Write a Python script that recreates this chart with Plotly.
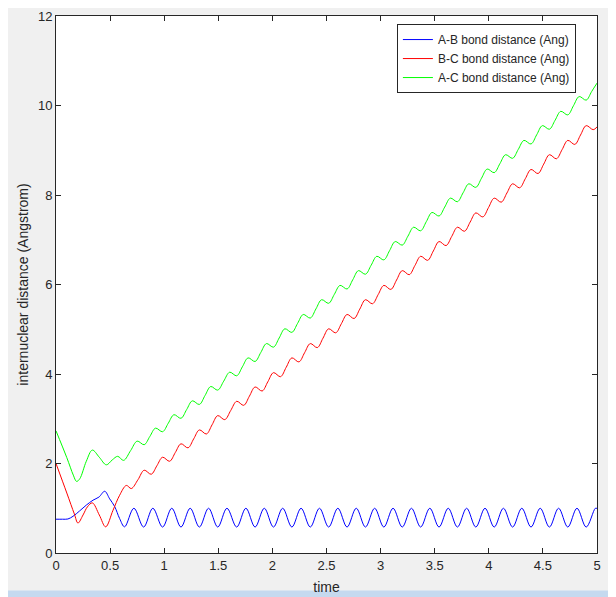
import plotly.graph_objects as go

# Bond distances (time vs Angstrom)

# A-B bond (blue)
t_ab = [0, 0.06, 0.11, 0.157, 0.218, 0.28, 0.342, 0.397, 0.45, 0.496, 0.542, 0.588, 0.634,
        0.72, 0.81, 0.895, 0.985, 1.07, 1.155, 1.24, 1.325, 1.41, 1.495,
        1.58, 1.67, 1.755, 1.84, 1.925, 2.01, 2.095, 2.18, 2.265, 2.35,
        2.435, 2.52, 2.605, 2.69, 2.775, 2.86, 2.945, 3.03, 3.115, 3.20,
        3.285, 3.37, 3.455, 3.54, 3.625, 3.71, 3.795, 3.88, 3.965, 4.05,
        4.135, 4.22, 4.305, 4.39, 4.475, 4.56, 4.645, 4.73, 4.815, 4.90,
        4.985, 5.0]
d_ab = [0.755, 0.755, 0.76, 0.82, 0.94, 1.07, 1.18, 1.25, 1.38, 1.21, 1.04, 0.77, 0.585,
        1.0, 0.58, 1.0, 0.58, 1.0, 0.58, 1.0, 0.58, 1.0, 0.58,
        1.0, 0.58, 1.0, 0.58, 1.0, 0.58, 1.0, 0.58, 1.0, 0.58,
        1.0, 0.58, 1.0, 0.58, 1.0, 0.58, 1.0, 0.58, 1.0, 0.58,
        1.0, 0.58, 1.0, 0.58, 1.0, 0.58, 1.0, 0.58, 1.0, 0.58,
        1.0, 0.58, 1.0, 0.58, 1.0, 0.58, 1.0, 0.58, 1.0, 0.58,
        1.0, 0.995]

# B-C bond (red)
t_bc = [0, 0.10, 0.17, 0.203, 0.25, 0.29, 0.336, 0.40, 0.459, 0.527, 0.588, 0.65, 0.696, 0.758,
        0.815, 0.88, 0.9325, 0.985, 1.05, 1.1025, 1.155, 1.22, 1.2725,
        1.325, 1.39, 1.4425, 1.495, 1.56, 1.615, 1.67, 1.735, 1.7875,
        1.84, 1.905, 1.9575, 2.01, 2.075, 2.1275, 2.18, 2.245, 2.2975,
        2.35, 2.415, 2.4675, 2.52, 2.585, 2.6375, 2.69, 2.755, 2.8075,
        2.86, 2.925, 2.9775, 3.03, 3.095, 3.1475, 3.20, 3.265, 3.3175,
        3.37, 3.435, 3.4875, 3.54, 3.605, 3.6575, 3.71, 3.775, 3.8275,
        3.88, 3.945, 3.9975, 4.05, 4.115, 4.1675, 4.22, 4.285, 4.3375,
        4.39, 4.455, 4.5075, 4.56, 4.625, 4.6775, 4.73, 4.795, 4.8475,
        4.90, 4.965, 5.0]
d_bc = [2.0, 1.34, 0.87, 0.67, 0.85, 1.03, 1.12, 0.85, 0.585, 0.955, 1.29, 1.51, 1.44, 1.64,
        1.85, 1.76, 1.95, 2.14, 2.05, 2.245, 2.44, 2.35, 2.55,
        2.75, 2.66, 2.865, 3.07, 2.98, 3.185, 3.39, 3.30, 3.505,
        3.71, 3.62, 3.825, 4.03, 3.94, 4.15, 4.36, 4.27, 4.475,
        4.68, 4.59, 4.80, 5.01, 4.92, 5.125, 5.33, 5.24, 5.45,
        5.66, 5.57, 5.775, 5.98, 5.89, 6.10, 6.31, 6.22, 6.425,
        6.63, 6.54, 6.75, 6.96, 6.87, 7.075, 7.28, 7.19, 7.395,
        7.60, 7.51, 7.72, 7.93, 7.84, 8.045, 8.25, 8.16, 8.365,
        8.57, 8.48, 8.69, 8.90, 8.81, 9.015, 9.22, 9.13, 9.34,
        9.55, 9.46, 9.52]

# A-C bond (green)
t_ac = [0, 0.10, 0.16, 0.19, 0.22, 0.28, 0.336, 0.40, 0.465, 0.52, 0.57, 0.625, 0.69,
        0.75, 0.815, 0.8675, 0.92, 0.985, 1.0375, 1.09, 1.155, 1.2075,
        1.26, 1.325, 1.3775, 1.43, 1.495, 1.55, 1.605, 1.67, 1.7225,
        1.775, 1.84, 1.8925, 1.945, 2.01, 2.0625, 2.115, 2.18, 2.2325,
        2.285, 2.35, 2.4025, 2.455, 2.52, 2.5725, 2.625, 2.69, 2.7425,
        2.795, 2.86, 2.9125, 2.965, 3.03, 3.0825, 3.135, 3.20, 3.2525,
        3.305, 3.37, 3.4225, 3.475, 3.54, 3.5925, 3.645, 3.71, 3.7625,
        3.815, 3.88, 3.9325, 3.985, 4.05, 4.1025, 4.155, 4.22, 4.2725,
        4.325, 4.39, 4.4425, 4.495, 4.56, 4.6125, 4.665, 4.73, 4.7825,
        4.835, 4.90, 4.95, 5.0]
d_ac = [2.73, 2.13, 1.74, 1.60, 1.66, 2.05, 2.30, 2.14, 1.97, 2.08, 2.16, 2.07, 2.29,
        2.50, 2.42, 2.605, 2.79, 2.71, 2.90, 3.09, 3.01, 3.205,
        3.40, 3.32, 3.52, 3.72, 3.64, 3.84, 4.04, 3.96, 4.16,
        4.36, 4.28, 4.48, 4.68, 4.60, 4.805, 5.01, 4.93, 5.13,
        5.33, 5.25, 5.455, 5.66, 5.58, 5.78, 5.98, 5.90, 6.105,
        6.31, 6.23, 6.43, 6.63, 6.55, 6.755, 6.96, 6.88, 7.08,
        7.28, 7.20, 7.405, 7.61, 7.53, 7.73, 7.93, 7.85, 8.05,
        8.25, 8.17, 8.375, 8.58, 8.50, 8.70, 8.90, 8.82, 9.02,
        9.22, 9.14, 9.345, 9.55, 9.47, 9.67, 9.87, 9.79, 9.995,
        10.20, 10.12, 10.31, 10.50]

names = ["A-B bond distance (Ang)", "B-C bond distance (Ang)", "A-C bond distance (Ang)"]
colors = ["#0000ff", "#ff0000", "#00ff00"]

fig = go.Figure()
for t, d, name, color in zip([t_ab, t_bc, t_ac], [d_ab, d_bc, d_ac], names, colors):
    fig.add_trace(go.Scatter(x=t, y=d, mode="lines", name=name,
                             line=dict(color=color, width=1, shape="spline", smoothing=1)))

axis_style = dict(showline=True, linecolor="#262626", linewidth=1, mirror="ticks",
                  ticks="inside", ticklen=5, tickcolor="#262626", showgrid=False,
                  zeroline=False, automargin=False, ticklabeloverflow="allow",
                  tickfont=dict(size=13, color="#262626"))

# the page body adds an 8px offset, so the figure is 8px smaller and margins shifted
fig.update_layout(
    width=608, height=589,
    margin=dict(l=48, r=19, t=8, b=44),
    paper_bgcolor="#f0f0f0", plot_bgcolor="white",
    font=dict(family="Liberation Sans, Arial, sans-serif", color="#262626"),
    xaxis=dict(range=[0, 5], tick0=0, dtick=0.5,
               title=dict(text="time", font=dict(size=14), standoff=10), **axis_style),
    yaxis=dict(range=[0, 12], tick0=0, dtick=2,
               title=dict(text="internuclear distance (Angstrom)", font=dict(size=14), standoff=6),
               **axis_style),
    legend=dict(x=0.961, y=0.985, xanchor="right", yanchor="top", bgcolor="white",
                bordercolor="#262626", borderwidth=1, font=dict(size=12, color="#262626"),
                itemwidth=30, tracegroupgap=0),
    showlegend=True,
)

# window frame strips (light blue) on the bottom and right edges
fig.add_shape(type="rect", xref="paper", yref="paper", x0=-0.2, x1=1.1, y0=-0.1, y1=-0.07,
              fillcolor="#c5d9ef", line_width=0, layer="below")
fig.add_shape(type="rect", xref="paper", yref="paper", x0=1.0277, x1=1.1, y0=-0.1, y1=1.1,
              fillcolor="#c5d9ef", line_width=0, layer="below")

fig.write_html("out.html")
